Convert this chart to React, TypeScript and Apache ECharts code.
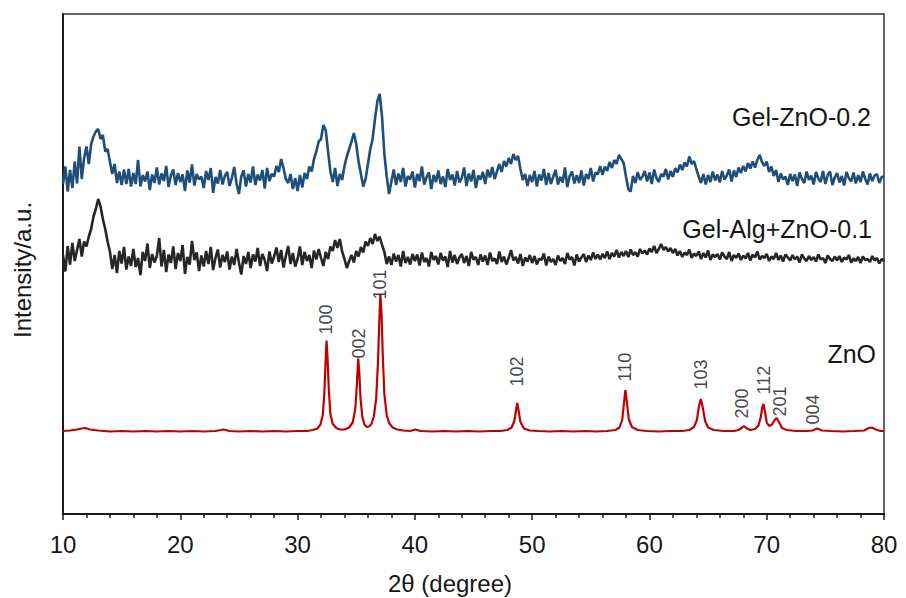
import React, { useEffect, useRef } from "react";
import * as echarts from "echarts";

// 2θ grid of the two noisy patterns: start 10°, step 0.2°
const scanStart = 10;
const scanStep = 0.2;

// Gel-ZnO-0.2 (blue), arbitrary intensity units
const gelZnO02 = [
  66.0, 69.5, 64.5, 68.8, 65.2, 70.5, 66.1, 73.5, 67.0, 71.2,
  73.5, 70.0, 74.0, 75.5, 76.5, 77.0, 75.0, 75.8, 72.5, 73.0,
  70.5, 68.0, 70.0, 66.2, 68.5, 65.8, 68.9, 66.0, 69.0, 65.5,
  68.2, 66.0, 70.8, 65.5, 67.8, 66.5, 68.5, 64.8, 67.9, 66.2,
  69.3, 65.9, 68.1, 66.6, 69.6, 65.4, 67.7, 68.9, 65.8, 68.2,
  66.4, 67.9, 64.6, 68.7, 66.3, 69.9, 65.7, 68.0, 66.9, 67.5,
  65.2, 68.6, 66.8, 69.2, 64.2, 67.4, 66.1, 68.8, 65.9, 67.6,
  68.4, 65.6, 67.2, 69.4, 66.0, 64.0, 67.5, 68.7, 65.5, 68.0,
  66.3, 69.5, 65.8, 67.9, 66.7, 68.8, 65.1, 69.2, 66.6, 68.0,
  67.5, 69.6, 68.4, 71.0, 69.2, 67.0, 66.2, 68.0, 65.0, 67.2,
  64.6, 67.8, 65.3, 68.2, 67.0, 69.5, 68.5, 71.0, 72.5, 74.5,
  75.0, 77.8, 76.8, 72.5, 68.5, 66.4, 69.2, 65.6, 68.0, 66.8,
  69.6, 71.5, 73.0, 74.5, 76.2, 74.0, 70.5, 68.0, 65.5, 67.0,
  70.0, 73.0, 75.0, 79.0, 82.5, 84.0, 79.5, 72.0, 67.5, 64.0,
  66.5, 68.9, 65.8, 68.1, 66.4, 69.2, 65.5, 67.6, 66.9, 68.5,
  65.3, 68.0, 66.6, 69.5, 65.9, 67.4, 68.3, 65.0, 67.8, 66.4,
  68.7, 66.0, 67.5, 65.4, 69.0, 66.8, 67.9, 65.7, 68.6, 66.3,
  67.2, 69.3, 65.6, 68.1, 66.5, 68.8, 65.2, 67.7, 66.9, 68.4,
  66.0, 68.9, 67.3, 69.4, 67.0, 68.5, 70.0, 68.4, 70.6, 69.5,
  71.2, 70.0, 72.0, 70.8, 71.6, 69.0, 66.8, 68.0, 65.6, 67.8,
  66.4, 68.6, 65.5, 67.9, 66.7, 69.0, 65.8, 68.2, 66.0, 67.5,
  68.8, 65.9, 67.4, 66.3, 69.3, 65.4, 67.6, 68.5, 66.1, 67.8,
  66.2, 68.7, 65.7, 68.0, 67.0, 69.2, 66.5, 68.3, 67.9, 69.6,
  67.8, 69.5, 68.6, 70.4, 69.2, 70.8, 70.0, 71.8, 71.0, 70.2,
  67.5, 65.0, 64.5, 67.6, 66.2, 68.4, 66.8, 67.5, 68.6, 66.5,
  68.3, 66.0, 68.9, 67.2, 66.4, 68.0, 67.5, 69.0, 66.9, 68.6,
  67.4, 69.2, 68.3, 69.9, 68.8, 70.3, 69.5, 71.5, 70.0, 70.6,
  69.0, 67.5, 66.2, 68.0, 65.9, 67.8, 66.4, 68.5, 66.7, 67.9,
  66.3, 68.6, 66.9, 67.7, 68.9, 66.5, 68.7, 67.4, 69.3, 68.2,
  69.6, 68.5, 70.2, 69.1, 70.5, 69.3, 70.8, 71.8, 70.4, 69.6,
  70.5, 68.4, 69.5, 67.6, 68.8, 66.4, 68.1, 66.9, 67.5, 65.8,
  68.0, 66.6, 67.9, 65.6, 68.3, 67.0, 66.2, 68.5, 66.8, 67.7,
  65.9, 68.4, 67.1, 66.4, 68.6, 66.0, 67.8, 68.5, 65.8, 67.3,
  68.2, 66.3, 67.6, 65.7, 68.4, 67.2, 66.5, 68.3, 66.1, 67.8,
  66.4, 68.5, 67.0, 65.9, 68.1, 66.6, 67.7, 68.0, 66.2, 67.4,
  67.5,
];

// Gel-Alg+ZnO-0.1 (black)
const gelAlgZnO01 = [
  51.8, 48.5, 53.6, 49.9, 54.2, 50.6, 52.8, 55.0, 51.5, 54.5,
  53.5, 55.5, 57.0, 59.5, 61.0, 63.0, 61.5, 59.0, 57.0, 54.5,
  52.5, 49.0, 51.8, 48.2, 52.6, 50.1, 53.4, 48.9, 51.5, 49.6,
  53.0, 49.4, 51.2, 47.8, 52.4, 50.6, 54.1, 49.2, 52.0, 50.3,
  51.6, 55.2, 49.5, 52.8, 48.4, 51.9, 50.2, 53.5, 49.0, 52.2,
  50.6, 53.8, 48.0, 51.4, 49.9, 54.6, 50.8, 52.3, 48.6, 51.7,
  49.5, 52.6, 50.0, 53.4, 48.8, 51.2, 52.9, 49.3, 51.8, 50.4,
  52.5, 48.9, 51.5, 49.8, 53.0, 50.3, 47.9, 51.6, 50.0, 52.4,
  49.2, 51.9, 50.5, 53.2, 49.6, 52.0, 50.8, 48.6, 52.5, 50.1,
  51.5, 53.3, 50.4, 52.8, 49.3, 51.6, 53.6, 50.0, 52.2, 49.5,
  51.0, 53.5, 49.8, 52.4, 50.6, 51.8, 49.2, 52.7, 50.9, 53.0,
  51.2, 49.6, 52.4, 51.0, 53.5, 52.6, 54.8, 53.2, 55.0, 52.5,
  51.0, 49.2, 50.6, 51.8, 50.3, 52.6, 51.5, 53.4, 52.3, 54.5,
  53.6, 55.2, 54.0, 56.0, 54.6, 55.5, 53.8, 52.4, 50.0, 51.5,
  49.8, 52.1, 50.5, 51.8, 49.5, 52.6, 50.2, 51.4, 49.9, 52.0,
  50.6, 51.9, 49.7, 52.3, 50.4, 51.2, 49.5, 52.4, 50.8, 51.6,
  49.9, 52.2, 50.7, 51.5, 49.4, 52.6, 50.3, 51.8, 50.0, 51.3,
  52.0, 50.2, 51.6, 49.6, 52.4, 50.9, 51.4, 49.8, 51.9, 50.5,
  51.7, 49.8, 52.3, 50.6, 51.1, 50.0, 52.5, 50.4, 51.5, 49.9,
  51.2, 52.8, 50.7, 51.4, 50.1, 52.0, 49.6, 51.3, 50.5, 51.8,
  50.2, 51.6, 49.9, 51.1, 50.8, 52.1, 49.7, 51.5, 50.4, 51.0,
  49.8, 51.7, 50.6, 51.2, 50.0, 52.2, 50.9, 51.4, 49.7, 51.9,
  50.5, 51.3, 52.0, 50.4, 51.7, 50.8, 52.3, 51.0, 51.9, 50.9,
  52.0, 51.2, 52.5, 51.0, 52.2, 51.5, 52.8, 51.3, 52.4, 51.6,
  52.6, 51.4, 52.9, 51.8, 52.3, 51.5, 53.0, 52.1, 52.7, 51.9,
  53.1, 52.4, 53.6, 52.2, 53.0, 54.0, 52.8, 53.4, 52.5, 53.2,
  52.2, 53.0, 51.7, 52.6, 51.4, 52.3, 51.8, 52.9, 51.2, 52.1,
  51.6, 52.5, 51.0, 52.2, 51.3, 52.7, 50.8, 51.9, 51.4, 52.0,
  50.9, 52.3, 51.5, 51.0, 52.4, 50.6, 51.8, 51.2, 52.1, 50.8,
  51.7, 51.1, 52.2, 50.7, 51.9, 51.3, 52.5, 50.9, 51.6, 51.2,
  52.0, 50.6, 51.5, 51.0, 52.2, 50.8, 51.7, 50.5, 51.9, 51.3,
  50.7, 51.8, 50.9, 51.5, 50.3, 51.9, 51.1, 50.6, 51.6, 50.8,
  51.4, 50.5, 51.9, 50.9, 51.2, 50.2, 51.7, 51.0, 50.6, 51.5,
  50.7, 51.6, 50.4, 51.3, 50.9, 51.8, 50.3, 51.1, 50.6, 51.4,
  50.2, 51.5, 50.8, 51.0, 50.4, 51.6, 50.7, 51.2, 50.1, 51.0,
  50.6,
];

// ZnO reference (red): [2θ, intensity]
const znoPattern: [number, number][] = [
  [10, 16.6], [10.6, 16.7], [11.2, 16.9], [11.6, 17.1], [11.9, 17.2], [12.3, 16.9],
  [13, 16.7], [14, 16.5], [15, 16.6], [16, 16.5], [17, 16.6], [18, 16.5],
  [19, 16.6], [20, 16.5], [21, 16.6], [22, 16.5], [23, 16.6], [23.7, 16.9],
  [24.2, 16.6], [25, 16.5], [26, 16.6], [27, 16.5], [28, 16.6], [29, 16.5],
  [30, 16.6], [30.8, 16.6], [31.3, 16.8], [31.7, 17.1], [31.95, 17.9], [32.15, 19.8],
  [32.28, 24.0], [32.38, 30.0], [32.47, 34.7], [32.56, 31.0], [32.66, 25.0], [32.8, 20.0],
  [33.0, 18.0], [33.3, 17.2], [33.6, 16.9], [34.0, 16.9], [34.4, 17.3], [34.7, 18.3],
  [34.92, 21.0], [35.06, 26.0], [35.17, 31.1], [35.27, 28.0], [35.37, 23.0], [35.52, 19.5],
  [35.7, 17.9], [35.9, 17.4], [36.1, 17.5], [36.3, 18.0], [36.5, 19.5], [36.7, 23.0],
  [36.85, 30.0], [36.96, 38.0], [37.06, 44.0], [37.16, 40.0], [37.26, 32.0], [37.4, 24.0],
  [37.6, 19.8], [37.8, 18.2], [38.1, 17.3], [38.5, 16.9], [39.0, 16.7], [39.6, 16.6],
  [40.05, 16.9], [40.5, 16.6], [41.5, 16.5], [42.5, 16.6], [43.5, 16.5], [44.5, 16.6],
  [45.5, 16.5], [46.5, 16.6], [47.3, 16.6], [47.9, 16.8], [48.25, 17.3], [48.48, 18.6],
  [48.62, 20.6], [48.73, 22.2], [48.85, 20.6], [49.0, 18.4], [49.3, 17.1], [49.8, 16.7],
  [50.5, 16.6], [51.5, 16.5], [52.5, 16.6], [53.5, 16.5], [54.5, 16.6], [55.5, 16.5],
  [56.4, 16.6], [57.1, 16.8], [57.45, 17.3], [57.68, 18.8], [57.82, 22.0], [57.95, 24.8],
  [58.08, 22.3], [58.24, 19.0], [58.5, 17.4], [59.0, 16.8], [59.8, 16.6], [60.8, 16.5],
  [61.8, 16.6], [62.8, 16.6], [63.4, 16.8], [63.8, 17.4], [64.05, 18.8], [64.22, 21.5],
  [64.38, 23.0], [64.55, 21.3], [64.75, 18.6], [65.0, 17.3], [65.5, 16.8], [66.3, 16.6],
  [67.2, 16.6], [67.6, 16.8], [67.85, 17.2], [68.05, 17.6], [68.3, 17.1], [68.6, 16.8],
  [69.0, 17.0], [69.3, 17.7], [69.5, 19.5], [69.62, 21.3], [69.72, 22.0], [69.85, 20.5],
  [70.0, 18.3], [70.2, 17.6], [70.45, 17.9], [70.65, 18.7], [70.85, 19.2], [71.05, 18.4],
  [71.3, 17.2], [71.7, 16.8], [72.5, 16.6], [73.4, 16.6], [73.9, 16.7], [74.3, 17.1],
  [74.7, 16.7], [75.5, 16.6], [76.5, 16.5], [77.5, 16.6], [78.3, 16.7], [78.7, 17.2],
  [78.95, 17.3], [79.3, 16.9], [79.7, 16.6], [80, 16.6],
];

// Miller indices of the ZnO reflections and where their labels sit
const hklNames = ["100", "002", "101", "102", "110", "103", "200", "112", "201", "004"];
const hklTheta = [32.45, 35.22, 37.06, 48.73, 57.89, 64.38, 67.88, 69.73, 71.15, 73.91];
const hklLabelBase = [35.8, 31.0, 42.8, 25.4, 26.4, 24.8, 19.0, 23.8, 19.4, 17.8];

const xTicks = { min: 10, max: 80, interval: 10 };
const seriesNames = ["Gel-ZnO-0.2", "Gel-Alg+ZnO-0.1", "ZnO"];

const FONT = "'Liberation Sans', Arial, Helvetica, sans-serif";

export default function App() {
  const ref = useRef<HTMLDivElement>(null);
  useEffect(() => {
    if (!ref.current) return;
    const chart = echarts.init(ref.current, null, { renderer: "svg" });
    const toXY = (arr: number[]) => arr.map((v, i) => [+(scanStart + i * scanStep).toFixed(2), v]);
    const hklData = hklNames.map((n, i) => ({ value: [hklTheta[i], hklLabelBase[i]], name: n }));
    const textStyle = (text: string, size: number, align: string) => ({
      text, font: `${size}px ${FONT}`, fill: "#161616",
      align, verticalAlign: "middle", textAlign: align, textVerticalAlign: "middle",
    });
    chart.setOption({
      animation: false,
      backgroundColor: "#ffffff",
      grid: {
        left: 63, right: 22, top: 14, bottom: 84,
        show: true, borderColor: "#333333", borderWidth: 1.5,
      },
      xAxis: {
        type: "value",
        min: xTicks.min, max: xTicks.max, interval: xTicks.interval,
        axisLine: { show: true, onZero: false, lineStyle: { color: "#1a1a1a", width: 2 } },
        axisTick: { show: true, inside: false, length: 6, lineStyle: { color: "#1a1a1a", width: 1.5 } },
        minorTick: { show: true, splitNumber: 5, length: 4, lineStyle: { color: "#1a1a1a", width: 1.5 } },
        axisLabel: { fontSize: 24, color: "#161616", fontFamily: FONT, margin: 18 },
        splitLine: { show: false },
      },
      yAxis: {
        type: "value", min: 0, max: 100,
        axisLine: { show: true, lineStyle: { color: "#1a1a1a", width: 2 } },
        axisTick: { show: false },
        axisLabel: { show: false },
        splitLine: { show: false },
      },
      series: [
        {
          name: seriesNames[0], type: "line", data: toXY(gelZnO02), showSymbol: false, symbol: "none",
          lineStyle: { color: "#1f4e79", width: 2.6, join: "bevel" }, z: 3,
        },
        {
          name: seriesNames[1], type: "line", data: toXY(gelAlgZnO01), showSymbol: false, symbol: "none",
          lineStyle: { color: "#262626", width: 2.6, join: "bevel" }, z: 2,
        },
        {
          name: seriesNames[2], type: "line", data: znoPattern, showSymbol: false, symbol: "none",
          lineStyle: { color: "#c00000", width: 2.2 }, z: 4,
        },
        {
          name: "hkl", type: "scatter", data: hklData, symbolSize: 1,
          itemStyle: { color: "rgba(0,0,0,0)" }, silent: true, z: 5,
          label: {
            show: true, position: "top", distance: 0, rotate: 90,
            align: "left", verticalAlign: "middle",
            formatter: (p: any) => p.name,
            fontSize: 18, color: "#111111", fontFamily: FONT,
          },
        },
      ],
      graphic: [
        { type: "text", x: 871, y: 117, style: textStyle(seriesNames[0], 25, "right") },
        { type: "text", x: 872, y: 229, style: textStyle(seriesNames[1], 25, "right") },
        { type: "text", x: 876, y: 354, style: textStyle(seriesNames[2], 25, "right") },
        { type: "text", x: 22, y: 270, rotation: Math.PI / 2, style: textStyle("Intensity/a.u.", 24, "center") },
        { type: "text", x: 450, y: 583, style: textStyle("2θ (degree)", 24, "center") },
      ],
    });
    return () => chart.dispose();
  }, []);
  return <div ref={ref} style={{ width: 906, height: 598, position: "fixed", left: 0, top: 0 }} />;
}
